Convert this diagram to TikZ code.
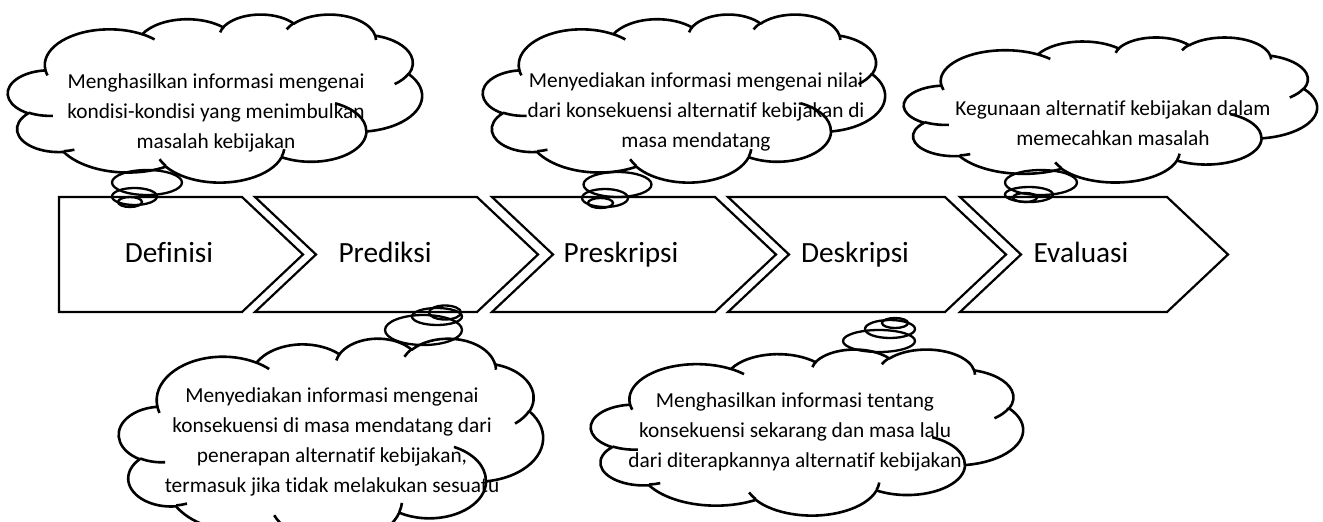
\documentclass[tikz,border=0pt]{standalone}
\usepackage{fontspec}
\setmainfont{Carlito}[RawFeature={-liga;-clig;-dlig;-calt;-rlig;-hlig}]
\newcommand\tI{t\kern0pt i}
\newcommand\drawcloud[4]{%
 \begin{scope}[shift={(#1,#2)}, xscale=#3/432, yscale=#4/432]
  \draw[cloudline] (39,143.7)
   [carc={67.53}{91.90}{-190.4875}{123.7805}]
   [carc={53.33}{72.67}{-144.1024}{89.9452}]
   [carc={43.65}{59.45}{-145.8079}{99.7230}]
   [carc={48.57}{65.95}{-130.9861}{117.2417}]
   [carc={53.33}{72.73}{-78.7089}{109.0269}]
   [carc={67.75}{92.20}{-46.2673}{130.2690}]
   [carc={57.85}{78.67}{0.6250}{114.0333}]
   [carc={67.52}{92.15}{22.4516}{115.1726}]
   [carc={77.20}{105.43}{66.2426}{75.7110}]
   [carc={43.60}{59.18}{-274.9421}{146.7356}]
   [carc={43.45}{59.45}{-246.8285}{152.5189}] -- cycle;
  \draw[cloudline]
   (46.93,261.77) [carc={43.45}{59.45}{86.7420}{26.4295}]
   (69.28,348.99) [carc={43.60}{59.18}{73.6105}{11.4475}]
   (164.78,390.90) [carc={67.52}{92.15}{137.6242}{14.0811}]
   (288.27,347.51) [carc={67.52}{92.15}{6.4533}{15.9984}]
   (341.29,229.54) [carc={57.85}{78.67}{-70.2924}{70.9174}]
   (417.98,153.54) [carc={53.33}{72.73}{30.3180}{27.7515}]
   (383.24,54.26) [carc={48.57}{65.95}{-13.7443}{14.8589}]
   (290.78,39.52) [carc={48.57}{65.95}{-149.1815}{18.1954}]
   (221.41,47.20) [carc={43.65}{59.45}{-163.4943}{17.6864}]
   (140.00,51.92) [carc={67.53}{91.90}{-66.7070}{12.3194}]
   (41.27,157.89) [carc={67.53}{91.90}{157.6544}{11.8582}];
 \end{scope}}
\begin{document}
\begin{tikzpicture}[x=1pt,y=-1pt,
  declare function={pa(\a,\b,\t)=atan2((\a)*sin(\t),(\b)*cos(\t));},
  carc/.style n args={4}{insert path={arc[x radius=#1, y radius=#2, start angle={pa(#1,#2,#3)}, delta angle={mod(pa(#1,#2,(#3)+(#4))-pa(#1,#2,#3)+720,360)}]}},
  cloudline/.style={draw=black, line width=2.6pt, line join=round},
  chev/.style={draw=black, line width=2.2pt, line join=miter},
  bubble/.style={draw=black, line width=2.3pt},
  lbl/.style={font=\fontsize{29.33}{35}\selectfont, inner sep=0pt, anchor=base},
  ctext/.style={font=\fontsize{21.33}{29.9}\selectfont, align=center, inner sep=0pt},
]
\fill[white] (0,0) rectangle (1323,522);
\useasboundingbox (0,0) rectangle (1323,522);
\clip (0,0) rectangle (1323,522);

% clouds
\drawcloud{8}{14}{414}{168}
\drawcloud{483}{14}{402}{168}
\drawcloud{904}{37}{413}{145}
\drawcloud{119}{338}{424}{205}
\drawcloud{591}{349}{432}{166}

% tail bubbles
\draw[bubble] (147,182.5) ellipse[x radius=35, y radius=12.5];
\draw[bubble] (134.5,196.5) ellipse[x radius=22.5, y radius=8.5];
\draw[bubble] (130,202) ellipse[x radius=12, y radius=5];

\draw[bubble] (617.5,184.5) ellipse[x radius=34, y radius=12.5];
\draw[bubble] (605,198) ellipse[x radius=23, y radius=9];
\draw[bubble] (600.5,203) ellipse[x radius=12.5, y radius=5];

\draw[bubble] (1041,182.5) ellipse[x radius=36, y radius=12.5];
\draw[bubble] (1029,194.5) ellipse[x radius=24, y radius=7.5];
\draw[bubble] (1025,197.5) ellipse[x radius=12, y radius=4.5];

\draw[bubble] (423.5,330) ellipse[x radius=38.5, y radius=15];
\draw[bubble] (437,316.5) ellipse[x radius=25, y radius=8.5];
\draw[bubble] (445,312.5) ellipse[x radius=16, y radius=7];

\draw[bubble] (879,341) ellipse[x radius=36, y radius=11];
\draw[bubble] (890,329) ellipse[x radius=25, y radius=9];
\draw[bubble] (895,323) ellipse[x radius=13, y radius=5];

% chevrons
\draw[chev] (59,197) -- (242,197) -- (303,254.5) -- (242,312) -- (59,312) -- cycle;
\draw[chev] (255,197) -- (477,197) -- (538,254.5) -- (477,312) -- (255,312) -- (316,254.5) -- cycle;
\draw[chev] (492,197) -- (715,197) -- (776,254.5) -- (715,312) -- (492,312) -- (553,254.5) -- cycle;
\draw[chev] (728,197) -- (945,197) -- (1006,254.5) -- (945,312) -- (728,312) -- (789,254.5) -- cycle;
\draw[chev] (960,197) -- (1167,197) -- (1228,254.5) -- (1167,312) -- (960,312) -- (1021,254.5) -- cycle;

% chevron labels
\node[lbl] (l1) at (169,262) {Definisi};
\node[lbl] (l2) at (385,262) {Prediksi};
\node[lbl] (l3) at (621,262) {Preskripsi};
\node[lbl] (l4) at (855,262) {Deskripsi};
\node[lbl] (l5) at (1081,262) {Evaluasi};

% cloud texts
\node[ctext] (c1) at (216,112.7) {Menghasilkan informasi mengenai\\kondisi-kondisi yang menimbulkan\\masalah kebijakan};
\node[ctext] (c2) at (696,112.3) {Menyediakan informasi mengenai nilai\\dari konsekuensi alterna\tI f kebijakan di\\masa mendatang};
\node[ctext] (c3) at (1113,123.4) {Kegunaan alterna\tI f kebijakan dalam\\memecahkan masalah};
\node[ctext] (c4) at (332,441.7) {Menyediakan informasi mengenai\\konsekuensi di masa mendatang dari\\penerapan alterna\tI f kebijakan,\\termasuk jika \tI dak melakukan sesuatu};
\node[ctext] (c5) at (795,432) {Menghasilkan informasi tentang\\konsekuensi sekarang dan masa lalu\\dari diterapkannya alterna\tI f kebijakan};
\end{tikzpicture}
\end{document}
